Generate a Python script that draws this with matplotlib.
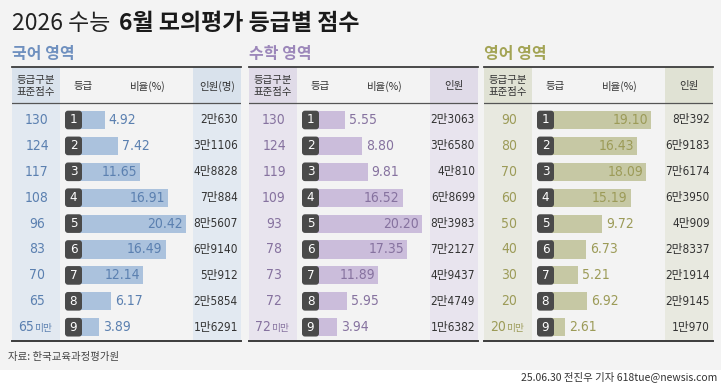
import matplotlib
matplotlib.use('Agg')
import matplotlib.pyplot as plt
from matplotlib import font_manager as fm
from matplotlib.patches import FancyBboxPatch, Rectangle

plt.rcParams['font.family'] = ['Noto Sans CJK KR', 'DejaVu Sans']

# 숫자용 좁은 글꼴 찾기 (없으면 기본 글꼴)
_fonts = fm.fontManager.ttflist
_names = {f.name for f in _fonts}
NUM_STRETCH = 'normal'
if 'Liberation Sans Narrow' in _names:
    NUM_FONT = ['Liberation Sans Narrow', 'Noto Sans CJK KR']
elif any(f.name == 'DejaVu Sans' and str(f.stretch) == 'condensed' for f in _fonts):
    NUM_FONT = ['DejaVu Sans', 'Noto Sans CJK KR']
    NUM_STRETCH = 'condensed'
else:
    NUM_FONT = ['Noto Sans CJK KR', 'DejaVu Sans']

# 데이터
grades = [1, 2, 3, 4, 5, 6, 7, 8, 9]

kor_scores = ['130', '124', '117', '108', '96', '83', '70', '65', '65미만']
kor_ratio = [4.92, 7.42, 11.65, 16.91, 20.42, 16.49, 12.14, 6.17, 3.89]
kor_people = ['2만630', '3만1106', '4만8828', '7만884', '8만5607', '6만9140', '5만912', '2만5854', '1만6291']

math_scores = ['130', '124', '119', '109', '93', '78', '73', '72', '72미만']
math_ratio = [5.55, 8.80, 9.81, 16.52, 20.20, 17.35, 11.89, 5.95, 3.94]
math_people = ['2만3063', '3만6580', '4만810', '6만8699', '8만3983', '7만2127', '4만9437', '2만4749', '1만6382']

eng_scores = ['90', '80', '70', '60', '50', '40', '30', '20', '20미만']
eng_ratio = [19.10, 16.43, 18.09, 15.19, 9.72, 6.73, 5.21, 6.92, 2.61]
eng_people = ['8만392', '6만9183', '7만6174', '6만3950', '4만909', '2만8337', '2만1914', '2만9145', '1만970']

W, H = 721, 389
ROW0, ROW_H = 120, 25.9      # 1등급 행 중심, 행 간격 (px)
TOP, HEAD_BOT, BOT = 67, 103.5, 341
PANEL_W, ZERO, PX = 229, 67, 5.25   # 패널 폭, 막대 0 위치, %당 px


def rx(x):
    return (x - ZERO) / PX


def ry(y):
    return (y - ROW0) / ROW_H


def num_text(ax, x, y, s, **kw):
    return ax.text(x, y, s, family=NUM_FONT, fontstretch=NUM_STRETCH, **kw)


panels = [
    # 제목, 왼쪽, 점수, 비율, 인원, 인원헤더, 제목색, 강조색, 막대색, 헤더칸, 본문칸
    ('국어 영역', 12, kor_scores, kor_ratio, kor_people, '인원(명)',
     '#6f90bf', '#5b80b0', '#abc2dd', '#d9e2ec', '#e2e9f1'),
    ('수학 영역', 249, math_scores, math_ratio, math_people, '인원',
     '#9c87ba', '#86729f', '#cbbddb', '#e0dbe8', '#e8e4ee'),
    ('영어 영역', 484, eng_scores, eng_ratio, eng_people, '인원',
     '#a3a455', '#9c9b58', '#c6c8a4', '#e0e2d4', '#e8e9e0'),
]

fig = plt.figure(figsize=(W / 100, H / 100), dpi=100, facecolor='#f3f3f3')
fig.add_artist(Rectangle((0, 0), 1, (H - 370) / H, transform=fig.transFigure,
                         color='white', lw=0, zorder=0))

# 제목
ax0 = fig.add_axes([0, 0, 1, 1])
ax0.set_axis_off()
t1 = fig.text(12 / W, 1 - 23 / H, '2026 수능', fontsize=16.5, weight='light',
              color='#222222', va='center', ha='left')
ax0.annotate('6월 모의평가 등급별 점수', xy=(1, 0.5), xycoords=t1,
             xytext=(6, 0), textcoords='offset points', va='center', ha='left',
             fontsize=16.5, weight='bold', color='#1a1a1a')

for (name, L, scores, ratio, people, people_head,
     title_c, acc_c, bar_c, head_c, body_c) in panels:
    fig.text(L / W, 1 - 54 / H, name, fontsize=11.5, weight='bold',
             color=title_c, va='center', ha='left')

    ax = fig.add_axes([L / W, 1 - BOT / H, PANEL_W / W, (BOT - TOP) / H])
    ax.set_xlim(rx(0), rx(PANEL_W))
    ax.set_ylim(ry(BOT), ry(TOP))
    ax.set_axis_off()
    rows = list(range(len(ratio)))

    # 칸 배경
    for x0, x1 in [(0, 48), (181, PANEL_W)]:
        ax.axvspan(rx(x0), rx(x1), color=body_c, lw=0, zorder=0)
        ax.add_patch(Rectangle((rx(x0), ry(TOP)), rx(x1) - rx(x0),
                               ry(HEAD_BOT) - ry(TOP), color=head_c, lw=0, zorder=0))

    # 선
    ax.axhline(ry(TOP), color='#3c3c3c', lw=1.3, clip_on=False)
    ax.axhline(ry(HEAD_BOT), color='#555555', lw=0.9)
    ax.axhline(ry(BOT), color='#3c3c3c', lw=1.4, clip_on=False)

    # 헤더
    hy = ry(86)
    ax.text(rx(24), hy, '등급구분\n표준점수', ha='center', va='center',
            fontsize=7.5, linespacing=1.15, color='#333333')
    ax.text(rx(71), hy, '등급', ha='center', va='center', fontsize=7.5, color='#333333')
    ax.text(rx(136), hy, '비율(%)', ha='center', va='center', fontsize=7.5, color='#333333')
    ax.text(rx(205), hy, people_head, ha='center', va='center', fontsize=7.5, color='#333333')

    # 막대
    ax.barh(rows, ratio, height=0.7, color=bar_c, lw=0, zorder=2)

    for i, (g, v, s, p) in enumerate(zip(grades, ratio, scores, people)):
        box = FancyBboxPatch((rx(53), i - 0.36), rx(70) - rx(53), 0.72,
                             boxstyle='round,pad=0,rounding_size=%f' % (3 / PX),
                             mutation_aspect=PX / ROW_H,
                             fc='#4a4a4a', ec='none', zorder=3)
        ax.add_patch(box)
        num_text(ax, rx(61.5), i, str(g), ha='center', va='center', color='white',
                 fontsize=9.5, zorder=4)

        label = '%.2f' % v
        if v >= 10:
            num_text(ax, v - 3 / PX, i, label, ha='right', va='center', color=acc_c,
                     fontsize=10, zorder=4)
        else:
            num_text(ax, v + 4 / PX, i, label, ha='left', va='center', color=acc_c,
                     fontsize=10, zorder=4)

        if s.endswith('미만'):
            tn = num_text(ax, rx(24) - 2 / PX, i, s[:-2], ha='right', va='center',
                          color=acc_c, fontsize=10)
            ax.annotate('미만', xy=(1, 0.12), xycoords=tn, ha='left', va='bottom',
                        color=acc_c, fontsize=7)
        else:
            num_text(ax, rx(25), i, s, ha='center', va='center', color=acc_c,
                     fontsize=10)

        num_text(ax, rx(226), i, p, ha='right', va='center', color='#333333',
                 fontsize=8.5)

fig.text(8 / W, 1 - 357 / H, '자료: 한국교육과정평가원', fontsize=7.5,
         color='#444444', va='center', ha='left')
fig.text(717 / W, 1 - 377 / H, '25.06.30 전진우 기자 618tue@newsis.com',
         fontsize=7.5, color='#333333', va='center', ha='right')

fig.savefig('out.png', dpi=100, facecolor=fig.get_facecolor())
